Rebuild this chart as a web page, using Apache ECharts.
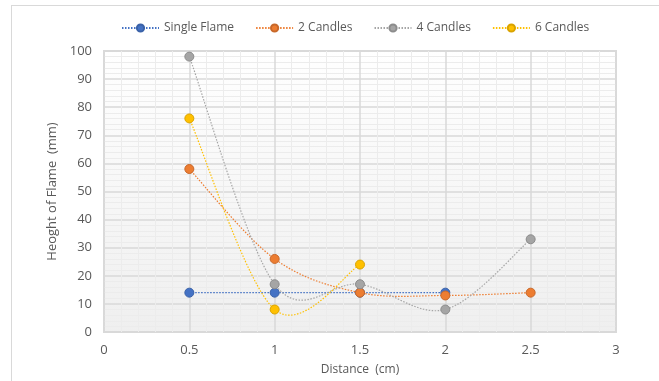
<!DOCTYPE html>
<html lang="en">

<head>
  <meta charset="utf-8">
  <title>Height of Flame vs Distance</title>
  <script src="https://cdn.jsdelivr.net/npm/echarts@6/dist/echarts.min.js"></script>
  <style>
    html, body {
      margin: 0;
      padding: 0;
      background: #fff;
    }

    #frame {
      position: absolute;
      left: 11px;
      top: 5px;
      width: 700px;
      height: 400px;
      border-left: 1px solid #d9d9d9;
      border-top: 1px solid #d9d9d9;
    }

    #main {
      position: absolute;
      left: 0;
      top: 0;
      width: 659px;
      height: 381px;
    }
  </style>
</head>

<body>
  <div id="frame"></div>
  <div id="main"></div>

  <script>
    // data
    var singleFlame = [[0.5, 14], [1, 14], [1.5, 14], [2, 14]];
    var twoCandles = [[0.5, 58], [1, 26], [1.5, 14], [2, 13], [2.5, 14]];
    var fourCandles = [[0.5, 98], [1, 17], [1.5, 17], [2, 8], [2.5, 33]];
    var sixCandles = [[0.5, 76], [1, 8], [1.5, 24]];
    var seriesNames = ['Single Flame', '2 Candles', '4 Candles', '6 Candles'];
    var seriesColors = ['#4472C4', '#ED7D31', '#A5A5A5', '#FFC000'];
    var borderColors = ['#3a62a8', '#c8682a', '#8c8c8c', '#d9a300'];
    var allData = [singleFlame, twoCandles, fourCandles, sixCandles];

    var textColor = '#595959';
    var font = '"Open Sans", "Noto Sans", sans-serif';

    // spreadsheet-style smoothed line (catmull-rom like bezier) through the points
    function curveSeries(i, data) {
      return {
        name: seriesNames[i] + ' curve',
        type: 'custom',
        data: data,
        silent: true,
        z: 2,
        renderItem: function (params, api) {
          if (params.dataIndex !== 0) return null;
          var pts = data.map(function (d) { return api.coord(d); });
          var n = pts.length;
          var path = 'M' + pts[0][0] + ' ' + pts[0][1];
          for (var k = 0; k < n - 1; k++) {
            var p0 = pts[Math.max(k - 1, 0)];
            var p1 = pts[k];
            var p2 = pts[k + 1];
            var p3 = pts[Math.min(k + 2, n - 1)];
            var c1x = p1[0] + (p2[0] - p0[0]) / 6;
            var c1y = p1[1] + (p2[1] - p0[1]) / 6;
            var c2x = p2[0] - (p3[0] - p1[0]) / 6;
            var c2y = p2[1] - (p3[1] - p1[1]) / 6;
            path += ' C' + c1x + ' ' + c1y + ' ' + c2x + ' ' + c2y + ' ' + p2[0] + ' ' + p2[1];
          }
          return {
            type: 'path',
            shape: { pathData: path },
            style: {
              fill: null,
              stroke: seriesColors[i],
              lineWidth: 1.2,
              lineDash: [1.5, 1.5]
            }
          };
        }
      };
    }

    function markerSeries(i, data) {
      return {
        name: seriesNames[i],
        type: 'line',
        data: data,
        symbol: 'circle',
        symbolSize: 9,
        lineStyle: {
          color: seriesColors[i],
          width: 1.2,
          type: [1.5, 1.5],
          opacity: 0
        },
        itemStyle: {
          color: seriesColors[i],
          borderColor: borderColors[i],
          borderWidth: 1
        },
        z: 3 + i
      };
    }

    var series = [];
    allData.forEach(function (d, i) { series.push(curveSeries(i, d)); });
    allData.forEach(function (d, i) { series.push(markerSeries(i, d)); });

    var myChart = echarts.init(document.getElementById('main'));

    var option = {
      animation: false,
      textStyle: { fontFamily: font, color: textColor },
      legend: {
        top: 17,
        left: 116,
        itemWidth: 37,
        itemHeight: 9,
        itemGap: 21,
        lineStyle: { opacity: 1 },
        textStyle: { fontSize: 12, color: textColor, fontFamily: font },
        data: seriesNames
      },
      grid: {
        left: 104,
        right: 43,
        top: 51,
        bottom: 46,
        show: true,
        borderColor: '#d9d9d9',
        borderWidth: 2,
        backgroundColor: {
          type: 'linear', x: 0, y: 0, x2: 0, y2: 1,
          colorStops: [
            { offset: 0, color: '#ffffff' },
            { offset: 1, color: '#efefef' }
          ]
        }
      },
      xAxis: {
        type: 'value',
        min: 0,
        max: 3,
        interval: 0.5,
        name: 'Distance  (cm)',
        nameLocation: 'middle',
        nameGap: 32,
        nameTextStyle: { fontSize: 12, color: textColor },
        axisLine: { show: false },
        axisTick: { show: false },
        axisLabel: { fontSize: 13, color: textColor, margin: 12 },
        splitLine: { lineStyle: { color: '#d9d9d9', width: 1.5 } },
        minorTick: { show: false, splitNumber: 5 },
        minorSplitLine: { show: true, lineStyle: { color: '#ececec', width: 1 } }
      },
      yAxis: {
        type: 'value',
        min: 0,
        max: 100,
        interval: 10,
        name: 'Heoght of Flame  (mm)',
        nameLocation: 'middle',
        nameGap: 31,
        nameTextStyle: { fontSize: 13, color: textColor },
        axisLine: { show: false },
        axisTick: { show: false },
        axisLabel: { fontSize: 13, color: textColor, margin: 12 },
        splitLine: { lineStyle: { color: '#d9d9d9', width: 1.5 } },
        minorTick: { show: false, splitNumber: 5 },
        minorSplitLine: { show: true, lineStyle: { color: '#ececec', width: 1 } }
      },
      series: series
    };

    myChart.setOption(option);
  </script>
</body>

</html>
